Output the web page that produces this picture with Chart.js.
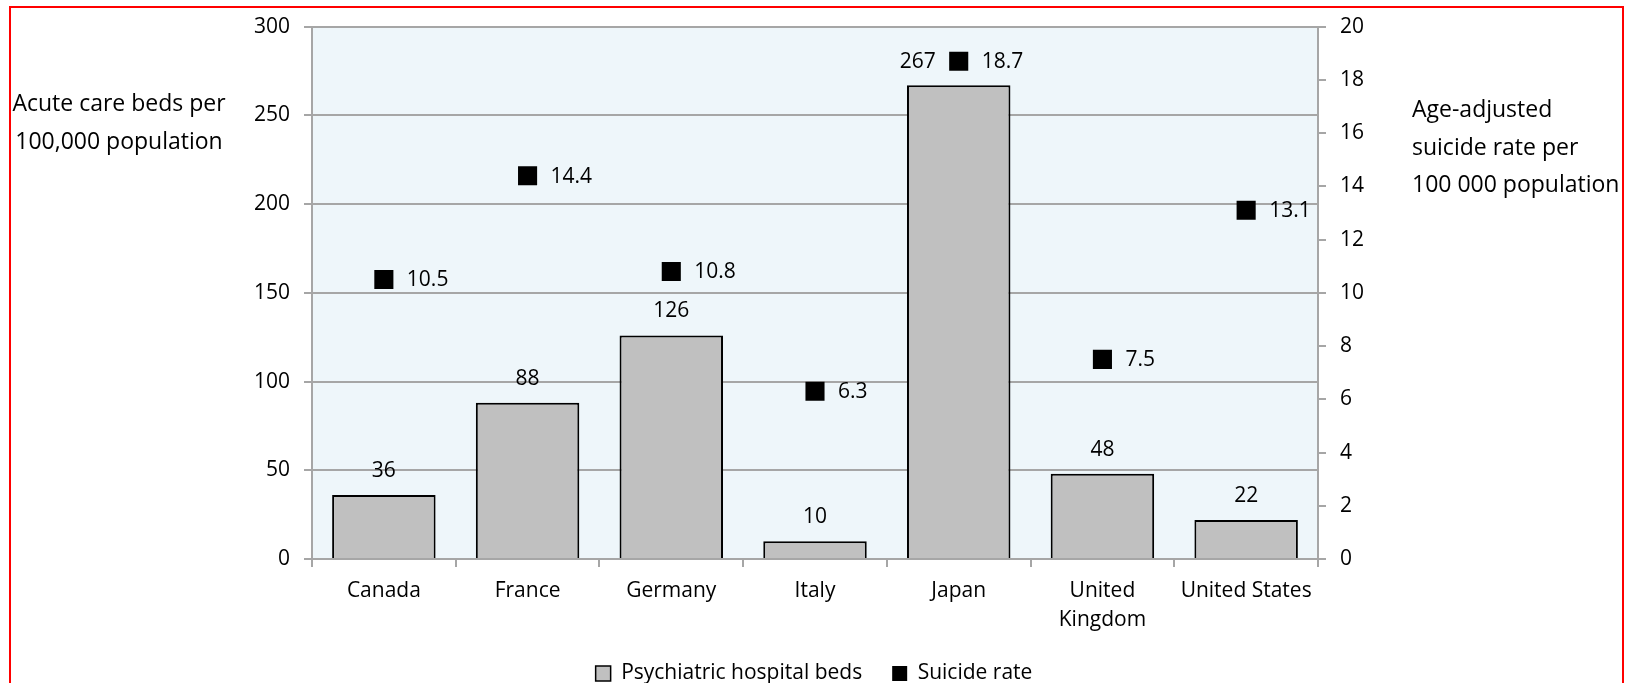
<!DOCTYPE html>
<html>
<head>
<meta charset="utf-8">
<script src="https://cdn.jsdelivr.net/npm/chart.js@4/dist/chart.umd.min.js"></script>
<style>
  html, body { margin: 0; padding: 0; background: #fff; overflow: hidden; }
  #wrap { position: absolute; left: 0; top: 0; width: 1628px; height: 683px; overflow: hidden; }
  #c { position: absolute; left: 0; top: 0; }
  #frame { position: absolute; left: 9px; top: 6px; width: 1615px; height: 720px;
           border: 2px solid #ff0000; box-sizing: border-box; pointer-events: none; }
</style>
</head>
<body>
<div id="wrap">
  <canvas id="c" width="1628" height="694"></canvas>
  <div id="frame"></div>
</div>
<script>
// Categories and values
const countries = ['Canada', 'France', 'Germany', 'Italy', 'Japan', ['United', 'Kingdom'], 'United States'];
const psychiatricBeds = [36, 88, 126, 10, 267, 48, 22];
const suicideRate = [10.5, 14.4, 10.8, 6.3, 18.7, 7.5, 13.1];

// Axis ranges and titles
const bedsAxisMax = 300;
const bedsAxisStep = 50;
const rateAxisMax = 20;
const rateAxisStep = 2;
const leftAxisTitle = ['Acute care beds per', '100,000 population'];
const rightAxisTitle = ['Age-adjusted', 'suicide rate per', '100 000 population'];
const seriesNames = ['Psychiatric hospital beds', 'Suicide rate'];

const FONT = '"Open Sans", "Noto Sans", sans-serif';
const GRID = '#a6a6a6';

// Light blue plot background
const plotBackground = {
  id: 'plotBackground',
  beforeDraw(chart) {
    const { ctx, chartArea: a } = chart;
    ctx.save();
    ctx.fillStyle = '#eef6fa';
    ctx.fillRect(a.left, a.top, a.right - a.left, a.bottom - a.top);
    ctx.restore();
  }
};

// Value labels: above each bar, right of each marker.
// A bar label that would collide with its marker moves to the marker's left.
const valueLabels = {
  id: 'valueLabels',
  afterDatasetsDraw(chart) {
    const { ctx } = chart;
    ctx.save();
    ctx.font = '21px ' + FONT;
    ctx.fillStyle = '#000';
    ctx.textBaseline = 'middle';
    const bars = chart.getDatasetMeta(0).data;
    const pts = chart.getDatasetMeta(1).data;
    bars.forEach((el, i) => {
      const y = el.y - 24;
      const p = pts[i];
      if (p && Math.abs(p.y - y) < 22) {
        ctx.textAlign = 'right';
        ctx.fillText(String(psychiatricBeds[i]), p.x - 23, y + 1);
      } else {
        ctx.textAlign = 'center';
        ctx.fillText(String(psychiatricBeds[i]), el.x, y);
      }
    });
    ctx.textAlign = 'left';
    pts.forEach((el, i) => {
      ctx.fillText(suicideRate[i].toFixed(1), el.x + 23, el.y + 1);
    });
    ctx.restore();
  }
};

// Horizontal axis titles on both sides of the plot
const axisTitles = {
  id: 'axisTitles',
  afterDraw(chart) {
    const { ctx, chartArea: a } = chart;
    ctx.save();
    ctx.font = '23px ' + FONT;
    ctx.fillStyle = '#000';
    ctx.textBaseline = 'middle';
    ctx.textAlign = 'center';
    leftAxisTitle.forEach((t, i) => ctx.fillText(t, a.left - 193, a.top + 78 + i * 38));
    ctx.textAlign = 'left';
    rightAxisTitle.forEach((t, i) => ctx.fillText(t, a.right + 94, a.top + 84 + i * 37.5));
    ctx.restore();
  }
};

new Chart(document.getElementById('c'), {
  data: {
    labels: countries,
    datasets: [
      {
        type: 'bar',
        label: seriesNames[0],
        data: psychiatricBeds,
        yAxisID: 'y',
        backgroundColor: '#c0c0c0',
        borderColor: '#000',
        borderWidth: 2,
        barPercentage: 0.72,
        categoryPercentage: 1.0,
        order: 2
      },
      {
        type: 'line',
        label: seriesNames[1],
        data: suicideRate,
        yAxisID: 'y1',
        showLine: false,
        pointStyle: 'rect',
        pointRadius: 13.5,
        pointHoverRadius: 13.5,
        pointBorderWidth: 0,
        backgroundColor: '#000',
        borderColor: '#000',
        borderWidth: 0,
        order: 1
      }
    ]
  },
  options: {
    responsive: false,
    devicePixelRatio: 1,
    animation: false,
    events: [],
    layout: { padding: { top: 22, left: 0, right: 0, bottom: 0 } },
    plugins: {
      tooltip: { enabled: false },
      legend: {
        position: 'bottom',
        labels: {
          font: { family: FONT, size: 21 },
          color: '#000',
          boxWidth: 15,
          boxHeight: 15,
          padding: 30,
          generateLabels(chart) {
            return chart.data.datasets.map((ds, i) => ({
              text: ds.label,
              fillStyle: i === 0 ? '#c0c0c0' : '#000',
              strokeStyle: '#000',
              lineWidth: i === 0 ? 1.5 : 0,
              fontColor: '#000',
              datasetIndex: i,
              hidden: false
            }));
          }
        }
      }
    },
    scales: {
      x: {
        offset: true,
        grid: { offset: true, drawOnChartArea: false, drawTicks: true, tickLength: 8, color: GRID, lineWidth: 2 },
        border: { color: GRID, width: 2 },
        ticks: {
          font: { family: FONT, size: 21, lineHeight: 1.4 },
          color: '#000', padding: 9, maxRotation: 0, autoSkip: false
        },
        afterFit(scale) { scale.height = 74; }
      },
      y: {
        position: 'left',
        min: 0, max: bedsAxisMax,
        grid: { color: GRID, lineWidth: 2, tickLength: 8 },
        border: { color: GRID, width: 2 },
        ticks: { stepSize: bedsAxisStep, font: { family: FONT, size: 21 }, color: '#000', padding: 14 },
        afterFit(scale) { scale.width = 312; }
      },
      y1: {
        position: 'right',
        min: 0, max: rateAxisMax,
        grid: { drawOnChartArea: false, color: GRID, lineWidth: 2, tickLength: 8 },
        border: { color: GRID, width: 2 },
        ticks: { stepSize: rateAxisStep, font: { family: FONT, size: 21 }, color: '#000', padding: 14 },
        afterFit(scale) { scale.width = 310; }
      }
    }
  },
  plugins: [plotBackground, valueLabels, axisTitles]
});
</script>
</body>
</html>
